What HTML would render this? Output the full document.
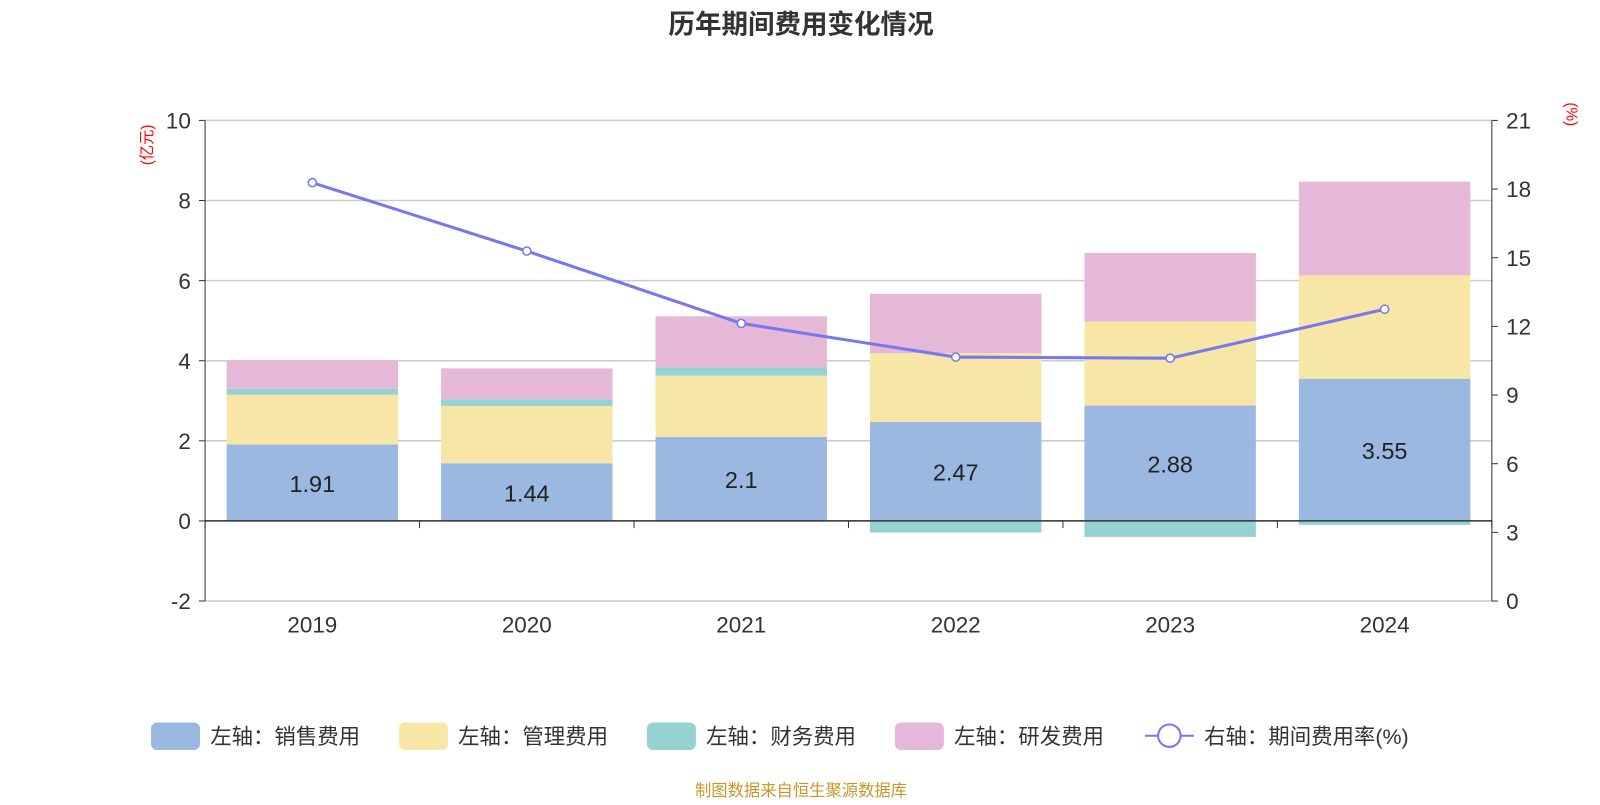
<!DOCTYPE html>
<html><head><meta charset="utf-8"><style>
body{margin:0;background:#fff;font-family:"Liberation Sans","Noto Sans CJK SC",sans-serif}
</style></head><body>
<svg id="c" width="1600" height="800" viewBox="0 0 1568 784" xmlns="http://www.w3.org/2000/svg" font-family="Liberation Sans, Noto Sans CJK SC, sans-serif"></svg>
<script>
const categories=['2019','2020','2021','2022','2023','2024'];
const sales=[1.91,1.44,2.1,2.47,2.88,3.55];
const mgmt=[1.24,1.43,1.53,1.72,2.10,2.58];
const fin=[0.15,0.17,0.2,-0.29,-0.40,-0.1];
const rd=[0.71,0.77,1.28,1.48,1.71,2.34];
const rate=[18.28,15.29,12.13,10.66,10.61,12.75];
const leftTicks=[-2,0,2,4,6,8,10];
const rightTicks=[0,3,6,9,12,15,18,21];
const svg=document.getElementById('c');
const NS='http://www.w3.org/2000/svg';
function mk(t,a,txt){const e=document.createElementNS(NS,t);for(const k in a)e.setAttribute(k,a[k]);if(txt!=null)e.textContent=txt;svg.appendChild(e);return e;}
const X0=201,X1=1462,T=118,B=589;
const yL=v=>B-(v+2)/12*(B-T);
const yR=v=>B-v/21*(B-T);
const band=(X1-X0)/categories.length;
const xc=i=>X0+band*(i+0.5);
let e;
e=mk('text',{x:785,y:33,'text-anchor':'middle','font-size':26,'font-weight':'bold',fill:'#333'},'历年期间费用变化情况');

leftTicks.forEach(v=>{const y=yL(v);
 e=mk('line',{x1:X0,x2:X1,y1:y,y2:y,stroke:'#ccc','stroke-width':1.5});
 e=mk('text',{x:187,y:y+8,'text-anchor':'end','font-size':22,fill:'#333'},v);
 mk('line',{x1:195,x2:X0,y1:y,y2:y,stroke:'#333'});});
rightTicks.forEach(v=>{const y=yR(v);
 e=mk('text',{x:1476,y:y+8,'font-size':22,fill:'#333'},v);
 mk('line',{x1:X1,x2:X1+6,y1:y,y2:y,stroke:'#333'});});
mk('line',{x1:X0,x2:X0,y1:T,y2:B,stroke:'#333'});
mk('line',{x1:X1,x2:X1,y1:T,y2:B,stroke:'#333'});
e=mk('text',{x:0,y:0,transform:'translate(149,142) rotate(-90)','text-anchor':'middle','font-size':15,fill:'red'},'(亿元)');
e=mk('text',{x:0,y:0,transform:'translate(1535,112) rotate(90)','text-anchor':'middle','font-size':15,fill:'red'},'(%)');
const bw=168;
categories.forEach((c,i)=>{
 const x=xc(i)-bw/2;let pos=0,neg=0;
 const segs=[[sales[i],'#9bb8e0','bar-sales'],[mgmt[i],'#f7e6a6','bar-management'],[fin[i],'#95d3d3','bar-finance'],[rd[i],'#e6b8d8','bar-rnd']];
 segs.forEach(([v,col,n])=>{let y0,y1;
  if(v>=0){y0=yL(pos+v);y1=yL(pos);pos+=v;}else{y0=yL(neg);y1=yL(neg+v);neg+=v;}
  e=mk('rect',{x:x,y:y0,width:bw,height:Math.max(0,y1-y0),fill:col});
  });
 e=mk('text',{x:xc(i),y:(yL(0)+yL(sales[i]))/2+9,'text-anchor':'middle','font-size':23,fill:'#222'},sales[i]);
 
 e=mk('text',{x:xc(i),y:620,'text-anchor':'middle','font-size':22,fill:'#333'},c);
 
});
mk('line',{x1:X0,x2:X1,y1:yL(0),y2:yL(0),stroke:'#333','stroke-width':1.5});
for(let i=0;i<=categories.length;i++){const x=X0+band*i;mk('line',{x1:x,x2:x,y1:yL(0),y2:yL(0)+7,stroke:'#333'});}
e=mk('polyline',{points:rate.map((v,i)=>xc(i)+','+yR(v)).join(' '),fill:'none',stroke:'#7777ee','stroke-width':3});

rate.forEach((v,i)=>{e=mk('circle',{cx:xc(i),cy:yR(v),r:4,fill:'#fff',stroke:'#7777ee','stroke-width':1.5});
 });
const leg=[['左轴：销售费用','#9bb8e0',148],['左轴：管理费用','#f7e6a6',391],['左轴：财务费用','#95d3d3',634],['左轴：研发费用','#e6b8d8',877]];
leg.forEach(([t,col,x])=>{e=mk('rect',{x:x,y:708,width:48,height:27,rx:6,fill:col});
 e=mk('text',{x:x+58,y:729,'font-size':21,fill:'#333'},t);});
mk('line',{x1:1122,x2:1170,y1:721,y2:721,stroke:'#7777ee','stroke-width':2});
e=mk('circle',{cx:1146,cy:721,r:11,fill:'#fff',stroke:'#7777ee','stroke-width':2});
e=mk('text',{x:1180,y:729,'font-size':21,fill:'#333'},'右轴：期间费用率(%)');
e=mk('text',{x:785,y:780,'text-anchor':'middle','font-size':16,fill:'#c8962a'},'制图数据来自恒生聚源数据库');
</script></body></html>
